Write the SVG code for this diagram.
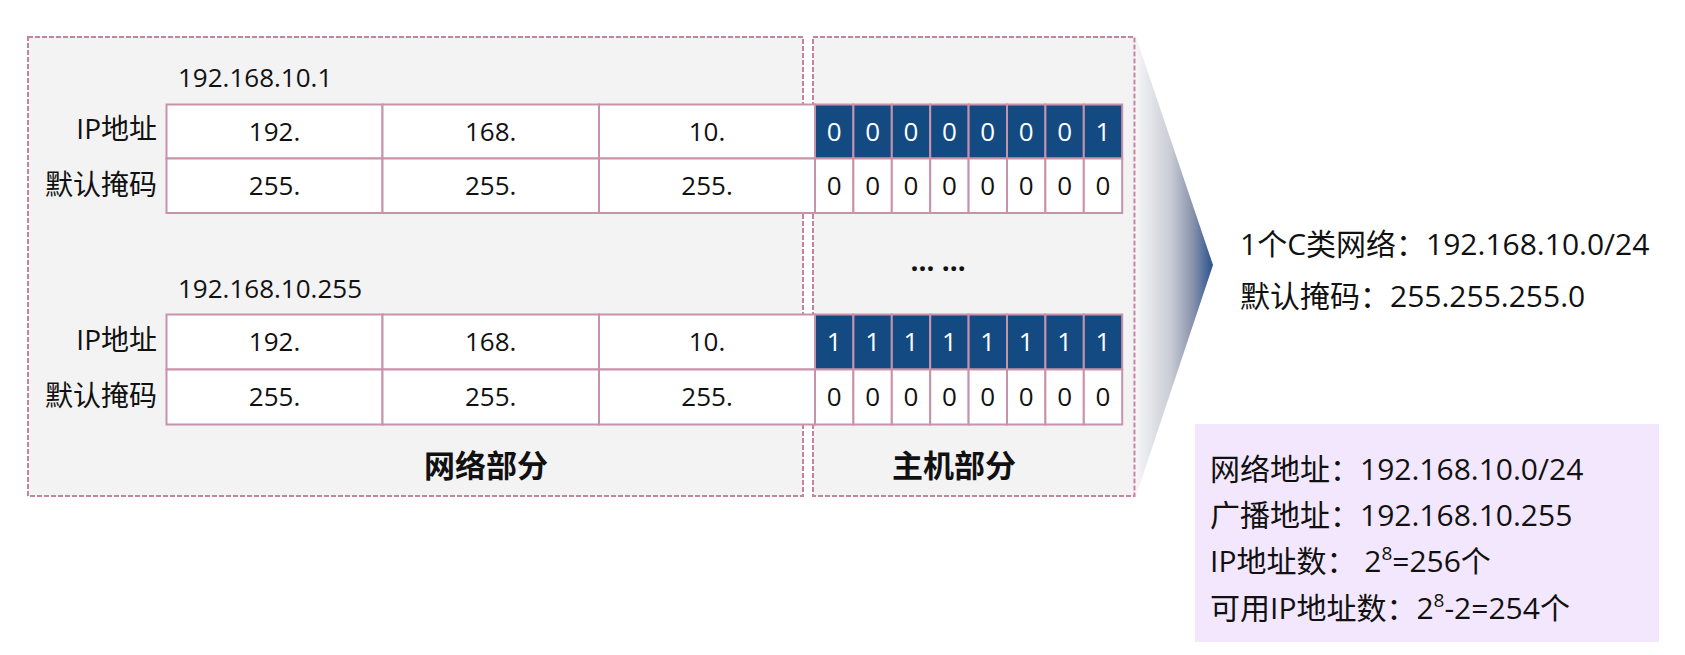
<svg xmlns="http://www.w3.org/2000/svg" width="1685" height="655" viewBox="0 0 1685 655">
<defs>
<linearGradient id="wedgeGrad" gradientUnits="userSpaceOnUse" x1="1136" y1="0" x2="1213" y2="0">
<stop offset="0" stop-color="#f6f6f8"/>
<stop offset="0.45" stop-color="#c9ccd5"/>
<stop offset="0.75" stop-color="#8590aa"/>
<stop offset="1" stop-color="#27528f"/>
</linearGradient>
<style>
.t{font-family:"Open Sans","Noto Sans CJK SC",sans-serif;fill:#111;}
.num{font-size:26px;text-anchor:middle;}
.bit{font-size:26px;text-anchor:middle;}
.bitw{fill:#ffffff;}
.lbl{font-size:28px;text-anchor:end;}
.ip{font-size:26px;}
.part{font-size:31px;font-weight:bold;text-anchor:middle;}
.info{font-size:30px;}
.dash{fill:#f3f3f3;stroke:#c4849f;stroke-width:2;stroke-dasharray:5 2;}
.cell{fill:#ffffff;stroke:#c992ab;stroke-width:2;}
.cellb{fill:#134a82;stroke:#c992ab;stroke-width:2;}
</style>
</defs>
<rect width="1685" height="655" fill="#ffffff"/>

<g id="connectors">
<polygon points="1136,37 1213,265 1136,496" fill="url(#wedgeGrad)"/>
</g>

<g id="network-part">
<rect class="dash" x="28" y="37" width="775" height="459"/>
<text class="t part" x="486" y="477">网络部分</text>
</g>

<g id="host-part">
<rect class="dash" x="813" y="37" width="321.5" height="459"/>
<text class="t part" x="954" y="477">主机部分</text>
</g>

<g id="address-1">
<text class="t ip" x="178" y="87">192.168.10.1</text>
<text class="t lbl" x="157" y="139">IP地址</text>
<text class="t lbl" x="157" y="195">默认掩码</text>
<rect class="cell" x="166.5" y="104.5" width="216" height="54"/>
<rect class="cell" x="382.5" y="104.5" width="216.5" height="54"/>
<rect class="cell" x="599" y="104.5" width="216" height="54"/>
<rect class="cell" x="166.5" y="158.5" width="216" height="54.5"/>
<rect class="cell" x="382.5" y="158.5" width="216.5" height="54.5"/>
<rect class="cell" x="599" y="158.5" width="216" height="54.5"/>
<rect class="cellb" x="815" y="104.5" width="38.4" height="54"/>
<rect class="cellb" x="853.4" y="104.5" width="38.4" height="54"/>
<rect class="cellb" x="891.8" y="104.5" width="38.4" height="54"/>
<rect class="cellb" x="930.2" y="104.5" width="38.4" height="54"/>
<rect class="cellb" x="968.6" y="104.5" width="38.4" height="54"/>
<rect class="cellb" x="1007" y="104.5" width="38.4" height="54"/>
<rect class="cellb" x="1045.4" y="104.5" width="38.4" height="54"/>
<rect class="cellb" x="1083.8" y="104.5" width="38.4" height="54"/>
<rect class="cell" x="815" y="158.5" width="38.4" height="54.5"/>
<rect class="cell" x="853.4" y="158.5" width="38.4" height="54.5"/>
<rect class="cell" x="891.8" y="158.5" width="38.4" height="54.5"/>
<rect class="cell" x="930.2" y="158.5" width="38.4" height="54.5"/>
<rect class="cell" x="968.6" y="158.5" width="38.4" height="54.5"/>
<rect class="cell" x="1007" y="158.5" width="38.4" height="54.5"/>
<rect class="cell" x="1045.4" y="158.5" width="38.4" height="54.5"/>
<rect class="cell" x="1083.8" y="158.5" width="38.4" height="54.5"/>
<text class="t num" x="274.5" y="141">192.</text>
<text class="t num" x="490.7" y="141">168.</text>
<text class="t num" x="707" y="141">10.</text>
<text class="t num" x="274.5" y="195">255.</text>
<text class="t num" x="490.7" y="195">255.</text>
<text class="t num" x="707" y="195">255.</text>
<text class="t bit bitw" x="834.2" y="141">0</text>
<text class="t bit bitw" x="872.6" y="141">0</text>
<text class="t bit bitw" x="911" y="141">0</text>
<text class="t bit bitw" x="949.4" y="141">0</text>
<text class="t bit bitw" x="987.8" y="141">0</text>
<text class="t bit bitw" x="1026.2" y="141">0</text>
<text class="t bit bitw" x="1064.6" y="141">0</text>
<text class="t bit bitw" x="1103" y="141">1</text>
<text class="t bit" x="834.2" y="195">0</text>
<text class="t bit" x="872.6" y="195">0</text>
<text class="t bit" x="911" y="195">0</text>
<text class="t bit" x="949.4" y="195">0</text>
<text class="t bit" x="987.8" y="195">0</text>
<text class="t bit" x="1026.2" y="195">0</text>
<text class="t bit" x="1064.6" y="195">0</text>
<text class="t bit" x="1103" y="195">0</text>
</g>

<g id="ellipsis">
<text class="t" x="938" y="271" font-size="28" font-weight="bold" text-anchor="middle">… …</text>
</g>

<g id="address-255">
<text class="t ip" x="178" y="298">192.168.10.255</text>
<text class="t lbl" x="157" y="350">IP地址</text>
<text class="t lbl" x="157" y="406">默认掩码</text>
<rect class="cell" x="166.5" y="314.5" width="216" height="55"/>
<rect class="cell" x="382.5" y="314.5" width="216.5" height="55"/>
<rect class="cell" x="599" y="314.5" width="216" height="55"/>
<rect class="cell" x="166.5" y="369.5" width="216" height="55"/>
<rect class="cell" x="382.5" y="369.5" width="216.5" height="55"/>
<rect class="cell" x="599" y="369.5" width="216" height="55"/>
<rect class="cellb" x="815" y="314.5" width="38.4" height="55"/>
<rect class="cellb" x="853.4" y="314.5" width="38.4" height="55"/>
<rect class="cellb" x="891.8" y="314.5" width="38.4" height="55"/>
<rect class="cellb" x="930.2" y="314.5" width="38.4" height="55"/>
<rect class="cellb" x="968.6" y="314.5" width="38.4" height="55"/>
<rect class="cellb" x="1007" y="314.5" width="38.4" height="55"/>
<rect class="cellb" x="1045.4" y="314.5" width="38.4" height="55"/>
<rect class="cellb" x="1083.8" y="314.5" width="38.4" height="55"/>
<rect class="cell" x="815" y="369.5" width="38.4" height="55"/>
<rect class="cell" x="853.4" y="369.5" width="38.4" height="55"/>
<rect class="cell" x="891.8" y="369.5" width="38.4" height="55"/>
<rect class="cell" x="930.2" y="369.5" width="38.4" height="55"/>
<rect class="cell" x="968.6" y="369.5" width="38.4" height="55"/>
<rect class="cell" x="1007" y="369.5" width="38.4" height="55"/>
<rect class="cell" x="1045.4" y="369.5" width="38.4" height="55"/>
<rect class="cell" x="1083.8" y="369.5" width="38.4" height="55"/>
<text class="t num" x="274.5" y="351">192.</text>
<text class="t num" x="490.7" y="351">168.</text>
<text class="t num" x="707" y="351">10.</text>
<text class="t num" x="274.5" y="406">255.</text>
<text class="t num" x="490.7" y="406">255.</text>
<text class="t num" x="707" y="406">255.</text>
<text class="t bit bitw" x="834.2" y="351">1</text>
<text class="t bit bitw" x="872.6" y="351">1</text>
<text class="t bit bitw" x="911" y="351">1</text>
<text class="t bit bitw" x="949.4" y="351">1</text>
<text class="t bit bitw" x="987.8" y="351">1</text>
<text class="t bit bitw" x="1026.2" y="351">1</text>
<text class="t bit bitw" x="1064.6" y="351">1</text>
<text class="t bit bitw" x="1103" y="351">1</text>
<text class="t bit" x="834.2" y="406">0</text>
<text class="t bit" x="872.6" y="406">0</text>
<text class="t bit" x="911" y="406">0</text>
<text class="t bit" x="949.4" y="406">0</text>
<text class="t bit" x="987.8" y="406">0</text>
<text class="t bit" x="1026.2" y="406">0</text>
<text class="t bit" x="1064.6" y="406">0</text>
<text class="t bit" x="1103" y="406">0</text>
</g>

<g id="summary">
<text class="t info" x="1240" y="255">1个C类网络：192.168.10.0/24</text>
<text class="t info" x="1240" y="307">默认掩码：255.255.255.0</text>
</g>

<g id="details">
<rect x="1195" y="424" width="464" height="218" fill="#f3e7fe"/>
<text class="t info" x="1210" y="480">网络地址：192.168.10.0/24</text>
<text class="t info" x="1210" y="526">广播地址：192.168.10.255</text>
<text class="t info" x="1210" y="572">IP地址数： 2<tspan font-size="19" dy="-12">8</tspan><tspan dy="12">=256个</tspan></text>
<text class="t info" x="1210" y="619">可用IP地址数：2<tspan font-size="19" dy="-12">8</tspan><tspan dy="12">-2=254个</tspan></text>
</g>
</svg>
